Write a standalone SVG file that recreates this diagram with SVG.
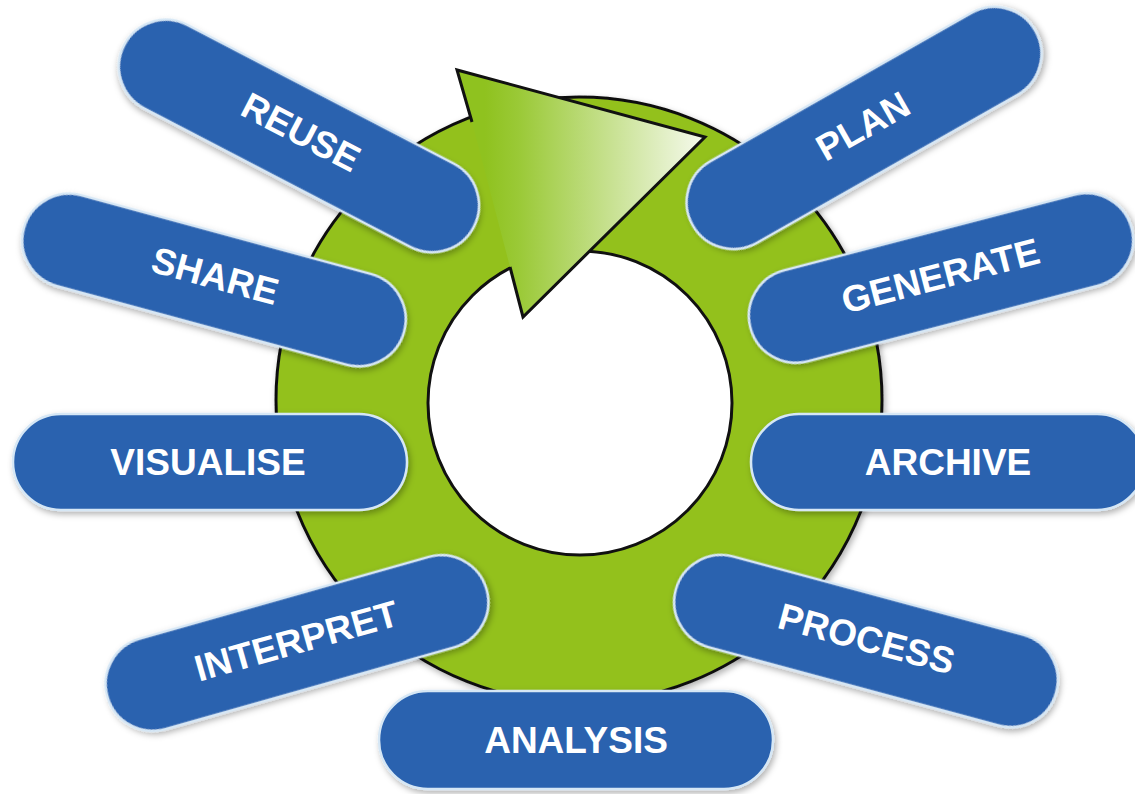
<svg xmlns="http://www.w3.org/2000/svg" width="1135" height="794" viewBox="0 0 1135 794">
<defs>
<style>
.pill{fill:#2a62af;stroke:#d6e7f5;stroke-width:2.5}
.lbl{fill:#ffffff;font-family:"Liberation Sans",Arial,sans-serif;font-weight:bold;font-size:37px;text-anchor:middle;dominant-baseline:central}
.ring{fill:#93c11f;stroke:#111;stroke-width:3}
</style>
<filter id="sh" x="-10%" y="-30%" width="120%" height="160%">
<feDropShadow dx="2" dy="3" stdDeviation="3" flood-color="#000" flood-opacity="0.3"/>
</filter>
<linearGradient id="ag" gradientUnits="userSpaceOnUse" x1="485" y1="0" x2="705" y2="0">
<stop offset="0" stop-color="#8fc21f"/>
<stop offset="0.15" stop-color="#9ac936"/>
<stop offset="1" stop-color="#f6faee"/>
</linearGradient>
</defs>
<rect width="1135" height="794" fill="#fff"/>
<g id="cycle">
<circle class="ring" cx="579" cy="400" r="303" filter="url(#sh)"/>
<circle cx="580" cy="403" r="152" fill="#fff" stroke="#111" stroke-width="3"/>
<path d="M472,122 L457,70 L705,137 L523,317 L510,267 Z" fill="url(#ag)"/>
<path d="M472,122 L457,70 L705,137 L523,317 L510,267" fill="none" stroke="#111" stroke-width="3" stroke-linejoin="miter"/>
</g>
<g id="reuse" transform="translate(299,136) rotate(27.5)">
<rect class="pill" x="-197" y="-47" width="394" height="94" rx="47" filter="url(#sh)"/>
<text class="lbl" x="0" y="-4">REUSE</text>
</g>
<g id="share" transform="translate(214,280) rotate(15.2)">
<rect class="pill" x="-197" y="-47" width="394" height="94" rx="47" filter="url(#sh)"/>
<text class="lbl" x="0" y="-4">SHARE</text>
</g>
<g id="visualise" transform="translate(210,462)">
<rect class="pill" x="-197" y="-48" width="394" height="96" rx="48" filter="url(#sh)"/>
<text class="lbl" x="-2" y="0">VISUALISE</text>
</g>
<g id="interpret" transform="translate(297,643) rotate(-15.8)">
<rect class="pill" x="-197" y="-47" width="394" height="94" rx="47" filter="url(#sh)"/>
<text class="lbl" x="0" y="-2">INTERPRET</text>
</g>
<g id="analysis" transform="translate(576,740)">
<rect class="pill" x="-197" y="-49" width="394" height="98" rx="49" filter="url(#sh)"/>
<text class="lbl" x="0" y="0">ANALYSIS</text>
</g>
<g id="process" transform="translate(866,641) rotate(15.1)">
<rect class="pill" x="-197" y="-47" width="394" height="94" rx="47" filter="url(#sh)"/>
<text class="lbl" x="0" y="-2">PROCESS</text>
</g>
<g id="archive" transform="translate(948,462)">
<rect class="pill" x="-197" y="-48" width="394" height="96" rx="48" filter="url(#sh)"/>
<text class="lbl" x="0" y="0">ARCHIVE</text>
</g>
<g id="generate" transform="translate(941,278) rotate(-14.6)">
<rect class="pill" x="-197" y="-47" width="394" height="94" rx="47" filter="url(#sh)"/>
<text class="lbl" x="0" y="-2">GENERATE</text>
</g>
<g id="plan" transform="translate(864,128) rotate(-29.6)">
<rect class="pill" x="-197" y="-47" width="394" height="94" rx="47" filter="url(#sh)"/>
<text class="lbl" x="0" y="-2">PLAN</text>
</g>
</svg>
